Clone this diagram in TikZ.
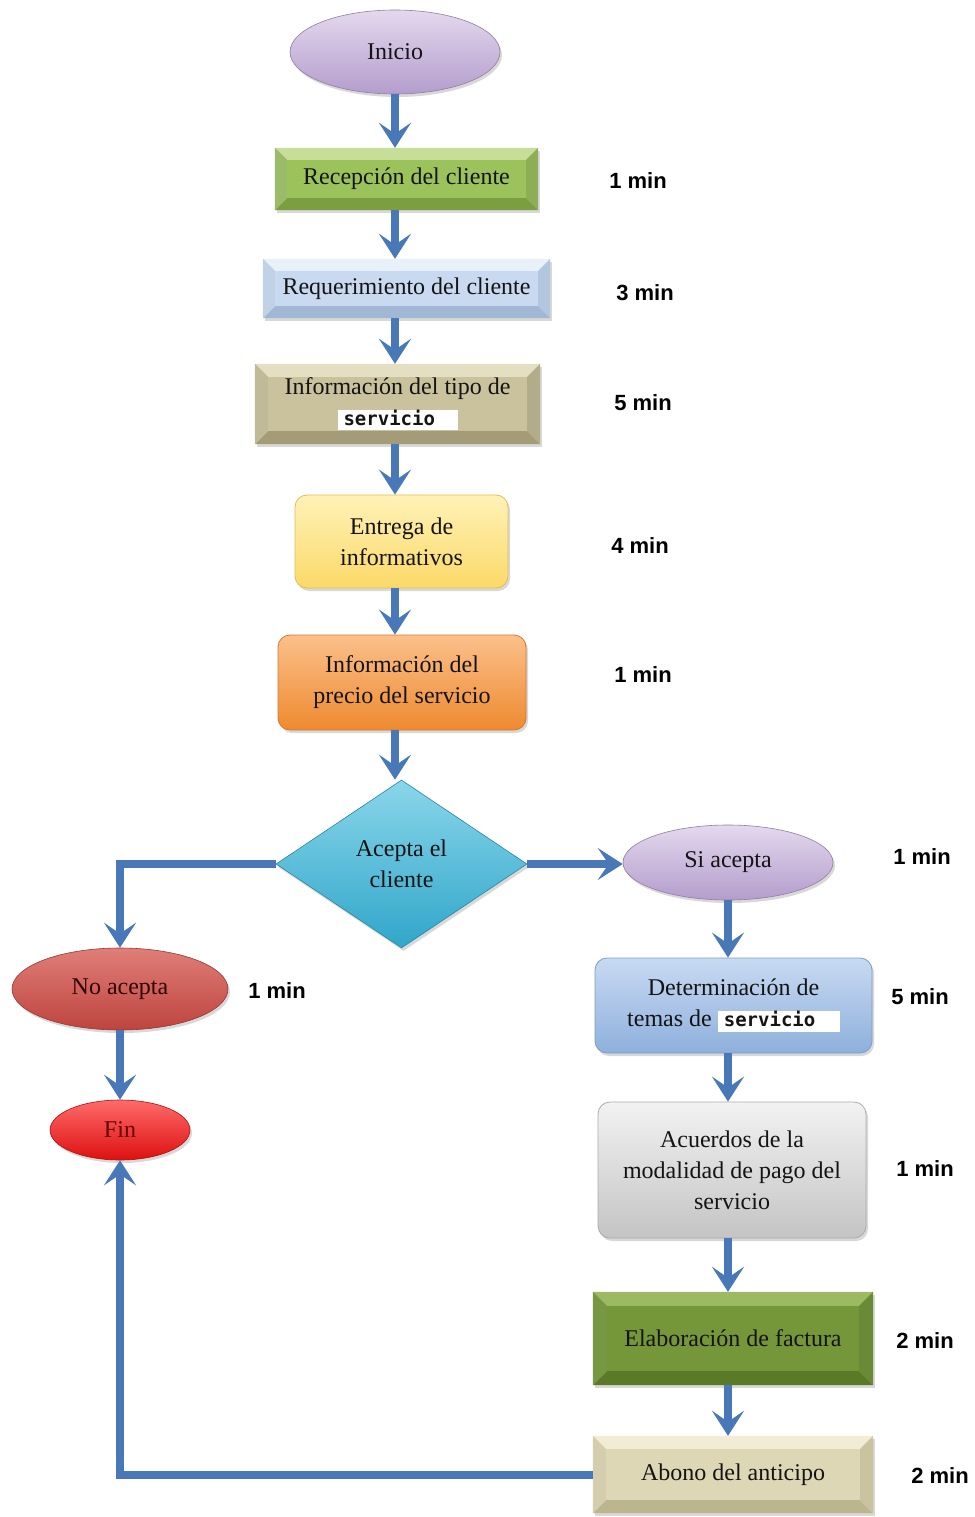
\documentclass[tikz,border=0pt]{standalone}
\usepackage{fontspec}
\setmainfont{Liberation Serif}
\newfontfamily\timefont{Liberation Sans}
\newfontfamily\servfont{DejaVu Sans Mono}
\usetikzlibrary{shapes.geometric,arrows.meta,calc,shadows}

% palette
\definecolor{flowblue}{HTML}{4878B8}
\definecolor{lavtop}{HTML}{E4D8EE}
\definecolor{lavbot}{HTML}{B49DCC}
\definecolor{recg}{HTML}{9CC25C}
\definecolor{recgl}{HTML}{C6DE98}
\definecolor{recgd}{HTML}{7A9E40}
\definecolor{reqb}{HTML}{C9DAF0}
\definecolor{reqbl}{HTML}{E8F0FA}
\definecolor{reqbd}{HTML}{A0B8D6}
\definecolor{tipt}{HTML}{CAC29C}
\definecolor{tiptl}{HTML}{E4DEC2}
\definecolor{tiptd}{HTML}{A39C76}
\definecolor{enttop}{HTML}{FFF2B8}
\definecolor{entbot}{HTML}{FBD968}
\definecolor{entdraw}{HTML}{E0BE55}
\definecolor{pretop}{HTML}{FBC08A}
\definecolor{prebot}{HTML}{EE8A30}
\definecolor{predraw}{HTML}{D9772A}
\definecolor{dectop}{HTML}{8AD6EA}
\definecolor{decbot}{HTML}{30A6CA}
\definecolor{dettop}{HTML}{C8DAF2}
\definecolor{detbot}{HTML}{8EB0DC}
\definecolor{detdraw}{HTML}{7C9CC6}
\definecolor{acutop}{HTML}{F2F2F2}
\definecolor{acubot}{HTML}{C4C4C4}
\definecolor{acudraw}{HTML}{AAAAAA}
\definecolor{elag}{HTML}{76963A}
\definecolor{elagl}{HTML}{9CBA62}
\definecolor{elagd}{HTML}{5A7A28}
\definecolor{abot}{HTML}{DDD7B6}
\definecolor{abotl}{HTML}{F0ECD6}
\definecolor{abotd}{HTML}{BDB58E}
\definecolor{notop}{HTML}{E07E78}
\definecolor{nobot}{HTML}{BE443E}
\definecolor{fintop}{HTML}{FF6A6A}
\definecolor{finbot}{HTML}{DD1010}

% white patch holding a sans word inside a node label
\newcommand{\whiteword}[2]{{\fboxsep=0pt\colorbox{white}{\makebox[#1][l]{\rule[-5pt]{0pt}{20pt}\hspace{6pt}\servfont\bfseries\fontsize{19}{19}\selectfont #2}}}}

% bevelled edges of a rectangular node: name, light, dark, depth
\newcommand{\boxbevel}[4]{%
  \fill[#2] (#1.north west) -- (#1.north east) -- ($(#1.north east)+(-#4,#4)$) -- ($(#1.north west)+(#4,#4)$) -- cycle;
  \fill[#3] (#1.south west) -- (#1.south east) -- ($(#1.south east)+(-#4,-#4)$) -- ($(#1.south west)+(#4,-#4)$) -- cycle;
  \fill[#2!45!#3] (#1.north west) -- (#1.south west) -- ($(#1.south west)+(#4,-#4)$) -- ($(#1.north west)+(#4,#4)$) -- cycle;
  \fill[#3!75!#2] (#1.north east) -- (#1.south east) -- ($(#1.south east)+(-#4,-#4)$) -- ($(#1.north east)+(-#4,#4)$) -- cycle;
}

\tikzset{
  nodetext/.style={font=\fontsize{24}{31}\selectfont, text=black!92, align=center, inner sep=0pt},
  shade/.style={drop shadow={opacity=0.3, shadow xshift=2pt, shadow yshift=-3pt}},
  bevelbox/.style={rectangle, nodetext, shade},
  glossbox/.style={rectangle, rounded corners=12pt, nodetext, shade, line width=0.8pt},
  oval/.style={ellipse, nodetext, shade, line width=0.6pt},
  flow/.style={draw=flowblue, line width=8pt, -{Stealth[length=25pt, width=32pt, inset=11pt]}},
  timelbl/.style={font=\timefont\bfseries\fontsize{22}{22}\selectfont, text=black, inner sep=0pt}
}

\begin{document}
\begin{tikzpicture}[x=1pt, y=-1pt]
\useasboundingbox (0,0) rectangle (974,1517);
\fill[white] (0,0) rectangle (974,1517);

% main column
\node[oval, top color=lavtop, bottom color=lavbot, draw=lavbot!80!black, minimum width=210pt, minimum height=84pt] (ini) at (395,52) {Inicio};

\node[bevelbox, fill=recg, minimum width=263pt, minimum height=62pt] (rec) at (406.5,179) {Recepción del cliente};
\boxbevel{rec}{recgl}{recgd}{12}

\node[bevelbox, fill=reqb, minimum width=287pt, minimum height=59pt] (req) at (406.5,288.5) {Requerimiento del cliente};
\boxbevel{req}{reqbl}{reqbd}{12}

\node[bevelbox, fill=tipt, minimum width=285pt, minimum height=80pt] (tip) at (397.5,404) {Información del tipo de\\\whiteword{120pt}{servicio}};
\boxbevel{tip}{tiptl}{tiptd}{13}

\node[glossbox, top color=enttop, bottom color=entbot, draw=entdraw, minimum width=213pt, minimum height=93pt] (ent) at (401.5,541.5) {Entrega de\\informativos};

\node[glossbox, top color=pretop, bottom color=prebot, draw=predraw, minimum width=248pt, minimum height=95pt] (pre) at (402,682.5) {Información del\\precio del servicio};

\node[diamond, nodetext, shade, top color=dectop, bottom color=decbot, draw=decbot!80!black, line width=0.6pt, aspect=1.49, minimum width=251pt, minimum height=168pt] (dec) at (401.5,864) {Acepta el\\cliente};

% accepted branch
\node[oval, top color=lavtop, bottom color=lavbot, draw=lavbot!80!black, minimum width=210pt, minimum height=75pt] (si) at (728,862.5) {Si acepta};

\node[glossbox, top color=dettop, bottom color=detbot, draw=detdraw, minimum width=277pt, minimum height=95pt] (det) at (733.5,1005.5) {Determinación de\\temas de \whiteword{122pt}{servicio}};

\node[glossbox, top color=acutop, bottom color=acubot, draw=acudraw, minimum width=268pt, minimum height=136pt] (acu) at (732,1170) {Acuerdos de la\\modalidad de pago del\\servicio};

\node[bevelbox, fill=elag, minimum width=280pt, minimum height=93pt] (ela) at (733,1338.5) {Elaboración de factura};
\boxbevel{ela}{elagl}{elagd}{14}

\node[bevelbox, fill=abot, minimum width=280pt, minimum height=77pt] (abo) at (733,1474.5) {Abono del anticipo};
\boxbevel{abo}{abotl}{abotd}{13}

% rejected branch
\node[oval, top color=notop, bottom color=nobot, draw=nobot!80!black, text=black!70!red!60!black, minimum width=216pt, minimum height=82pt] (no) at (120,989) {No acepta};

\node[oval, top color=fintop, bottom color=finbot, draw=finbot!80!black, text=red!40!black, minimum width=140pt, minimum height=60pt] (fin) at (120,1130) {Fin};

% connectors
\draw[flow] (ini.south) -- (ini.south |- rec.north);
\draw[flow] (rec.south -| ini.south) -- (ini.south |- req.north);
\draw[flow] (req.south -| ini.south) -- (ini.south |- tip.north);
\draw[flow] (tip.south -| ini.south) -- (ini.south |- ent.north);
\draw[flow] (ent.south -| ini.south) -- (ini.south |- pre.north);
\draw[flow] (pre.south -| ini.south) -- (ini.south |- dec.north);
\draw[flow] (dec.east) -- (dec.east -| si.west);
\draw[flow] (dec.west) -| (no.north);
\draw[flow] (no.south) -- (fin.north);
\draw[flow] (si.south) -- (si.south |- det.north);
\draw[flow] (det.south -| si.south) -- (si.south |- acu.north);
\draw[flow] (acu.south -| si.south) -- (si.south |- ela.north);
\draw[flow] (ela.south -| si.south) -- (si.south |- abo.north);
\draw[flow] (abo.west) -| (fin.south);

% durations
\node[timelbl] (t1) at (638,181) {1 min};
\node[timelbl] (t2) at (645,293) {3 min};
\node[timelbl] (t3) at (643,403) {5 min};
\node[timelbl] (t4) at (640,546) {4 min};
\node[timelbl] (t5) at (643,675) {1 min};
\node[timelbl] (t6) at (922,857) {1 min};
\node[timelbl] (t7) at (920,997) {5 min};
\node[timelbl] (t8) at (925,1169) {1 min};
\node[timelbl] (t9) at (925,1341) {2 min};
\node[timelbl] (t10) at (940,1476) {2 min};
\node[timelbl] (t11) at (277,991) {1 min};
\end{tikzpicture}
\end{document}
